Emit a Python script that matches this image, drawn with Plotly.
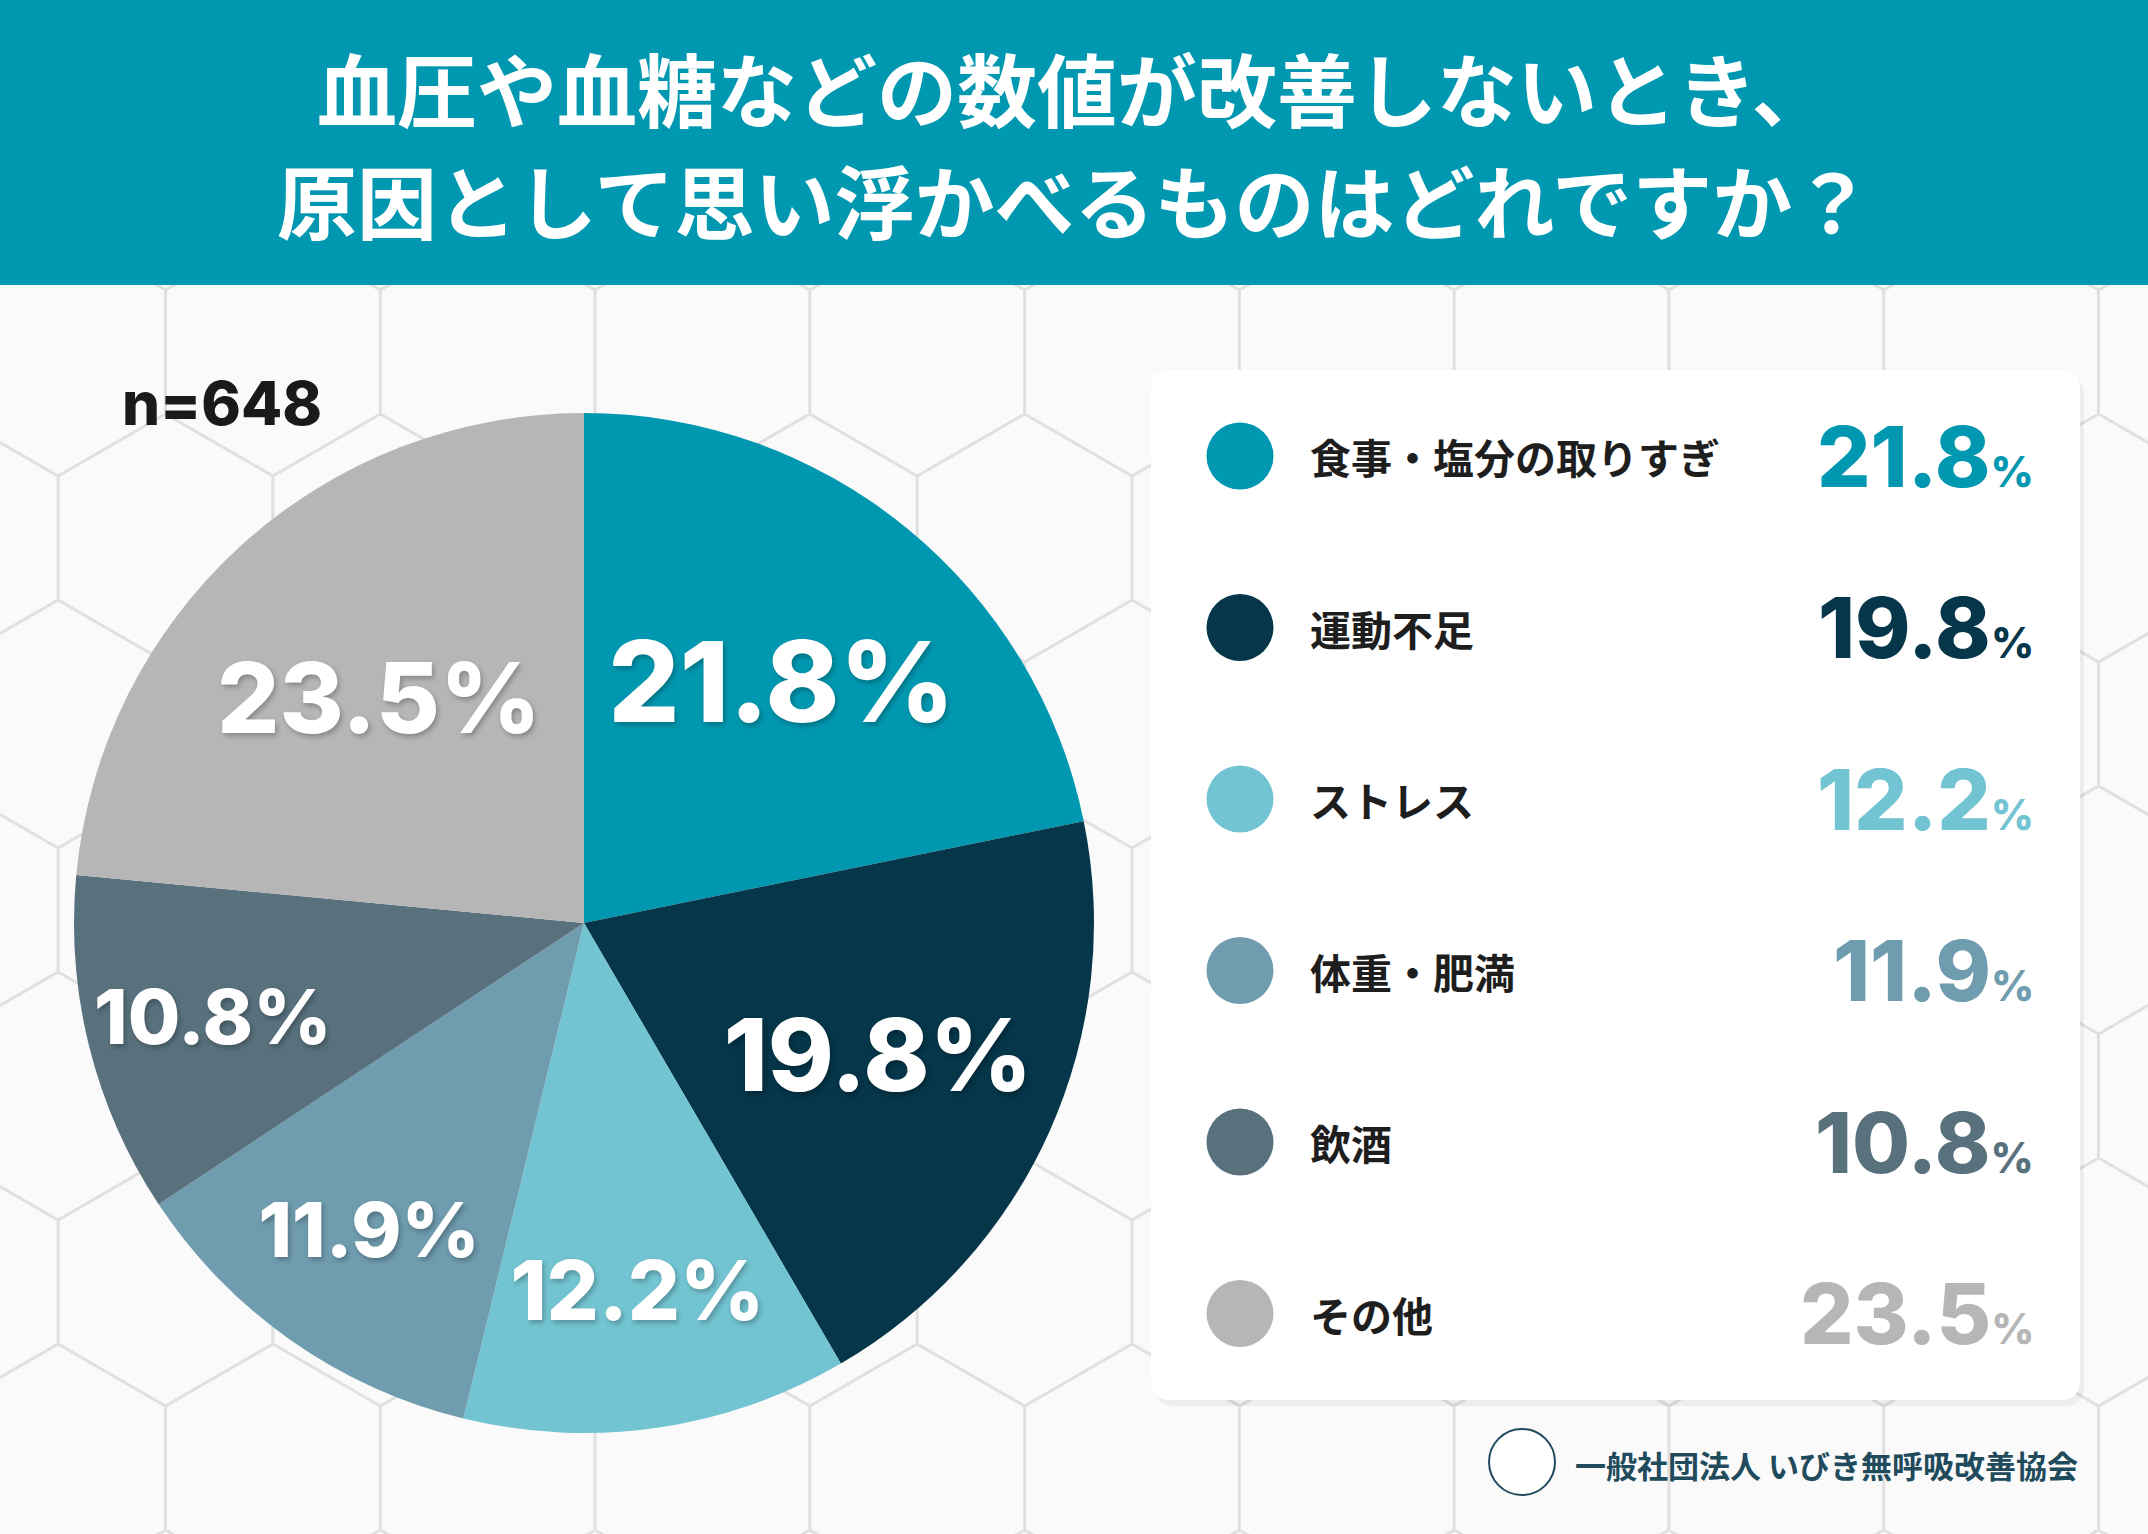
import math
import plotly.graph_objects as go

W, H = 2148, 1534

title_lines = ["血圧や血糖などの数値が改善しないとき、", "原因として思い浮かべるものはどれですか？"]
categories = ["食事・塩分の取りすぎ", "運動不足", "ストレス", "体重・肥満", "飲酒", "その他"]
shares = [21.8, 19.8, 12.2, 11.9, 10.8, 23.5]
colors = ["#0098B0", "#05364A", "#73C4D2", "#6F9CAE", "#58717D", "#B6B6B6"]
sample_note = "n=648"
credit = "一般社団法人 いびき無呼吸改善協会"

TEAL = "#0098B0"
NUM_FONT = "Inter"
JP_FONT = "Noto Sans CJK JP"


def hex_grid_path():
    # pointy-top hexagon tiles for the background
    s = 124.0
    w = s * math.sqrt(3)
    parts = []
    for i in range(-2, 8):
        cy = 538 + 1.5 * s * i
        x0 = 165.5 + (w / 2 if i % 2 else 0)
        for k in range(-2, 12):
            cx = x0 + w * k
            pts = []
            for a in range(6):
                ang = math.radians(90 + 60 * a)
                pts.append((cx + s * math.cos(ang), cy + s * math.sin(ang)))
            parts.append("M" + " L".join(f"{px:.1f},{py:.1f}" for px, py in pts) + " Z")
    return " ".join(parts)


def rounded_rect(x0, y0, x1, y1, r):
    return (f"M{x0 + r},{y0} L{x1 - r},{y0} Q{x1},{y0} {x1},{y0 + r} "
            f"L{x1},{y1 - r} Q{x1},{y1} {x1 - r},{y1} L{x0 + r},{y1} "
            f"Q{x0},{y1} {x0},{y1 - r} L{x0},{y0 + r} Q{x0},{y0} {x0 + r},{y0} Z")


fig = go.Figure()

# pie: centre (584, 923), radius 510 in pixels
cx, cy, r = 584, 923, 510
fig.add_trace(go.Pie(
    labels=categories, values=shares, sort=False, direction="clockwise", rotation=0,
    marker=dict(colors=colors, line=dict(width=0)),
    texttemplate="%{value:.1f}%", textposition="inside", insidetextorientation="horizontal",
    textfont=dict(family=NUM_FONT, color="white", weight=800,
                  size=[112, 100, 82, 76, 92, 98],
                  shadow="2px 3px 5px rgba(0,0,0,0.25)"),
    domain=dict(x=[(cx - r) / W, (cx + r) / W], y=[1 - (cy + r) / H, 1 - (cy - r) / H]),
    showlegend=False, hoverinfo="label+value",
))

# legend rows
row_y = [456 + 171.5 * i for i in range(len(categories))]
fig.add_trace(go.Scatter(
    x=[1240] * len(categories), y=row_y, mode="markers",
    marker=dict(size=67, color=colors, line=dict(width=0)),
    showlegend=False, hoverinfo="skip",
))

fig.update_xaxes(range=[0, W], visible=False, fixedrange=True)
fig.update_yaxes(range=[H, 0], visible=False, fixedrange=True)

shapes = [
    dict(type="rect", x0=0, x1=W, y0=0, y1=H, fillcolor="#F1F1F1", line_width=0, layer="below"),
    dict(type="path", path=hex_grid_path(), fillcolor="#FAFAFA",
         line=dict(color="#E0E0E0", width=3), layer="below"),
    dict(type="rect", x0=0, x1=W, y0=0, y1=285, fillcolor=TEAL, line_width=0, layer="below"),
    dict(type="path", path=rounded_rect(1155, 376, 2084, 1406, 20), fillcolor="rgba(0,0,0,0.05)",
         line_width=0, layer="below"),
    dict(type="path", path=rounded_rect(1151, 370, 2080, 1400, 20), fillcolor="white",
         line_width=0, layer="below"),
    dict(type="circle", x0=1489, x1=1555, y0=1429, y1=1495, fillcolor="white",
         line=dict(color="#1F4B5C", width=2), layer="above"),
]

annotations = []
for i, line in enumerate(title_lines):
    annotations.append(dict(x=W / 2, y=[86, 198][i], text=line, showarrow=False,
                            xanchor="center", yanchor="middle",
                            font=dict(family=JP_FONT, size=80, color="white", weight="bold")))

annotations.append(dict(x=120, y=403, text=sample_note, showarrow=False, xanchor="left", yanchor="middle",
                        font=dict(family=NUM_FONT, size=60, color="#1A1A1A", weight=800)))

for i, (cat, val, col) in enumerate(zip(categories, shares, colors)):
    annotations.append(dict(x=1308, y=row_y[i], text=cat, showarrow=False, xanchor="left", yanchor="middle",
                            font=dict(family=JP_FONT, size=41, color="#1E1E1E", weight="bold")))
    annotations.append(dict(x=2036, y=row_y[i], showarrow=False, xanchor="right", yanchor="middle",
                            text=f"{val:.1f}<span style='font-size:42px'>%</span>",
                            font=dict(family=NUM_FONT, size=84, color=col, weight=800)))

annotations.append(dict(x=1573, y=1464, text=credit, showarrow=False, xanchor="left", yanchor="middle",
                        font=dict(family=JP_FONT, size=31, color="#1F4B5C", weight="bold")))

fig.update_layout(
    width=W, height=H, margin=dict(l=0, r=0, t=0, b=0),
    paper_bgcolor="#F1F1F1", plot_bgcolor="rgba(0,0,0,0)",
    shapes=shapes, annotations=annotations,
)

fig.write_html("out.html", config={"displayModeBar": False},
               post_script="document.body.style.margin='0';document.body.style.overflow='hidden';")
